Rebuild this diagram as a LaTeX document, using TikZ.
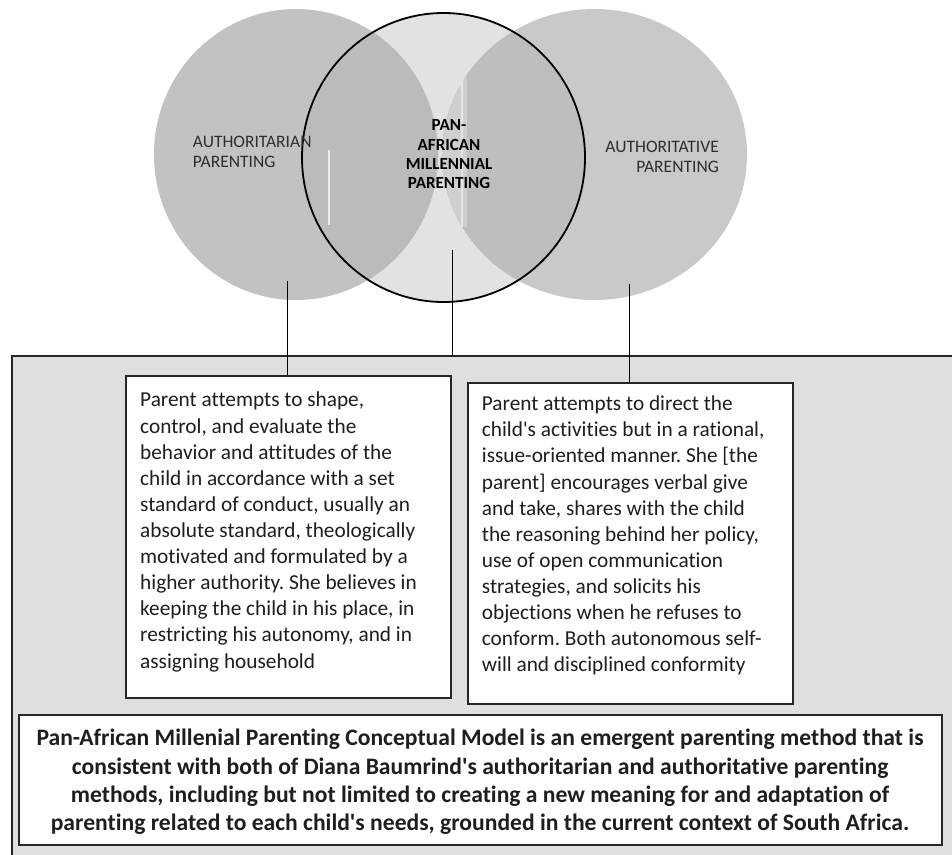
\documentclass[tikz,border=0pt]{standalone}
\usepackage{fontspec}
\setmainfont{Carlito}[Ligatures=NoCommon]
\usetikzlibrary{calc}
\definecolor{midfill}{HTML}{E2E2E2}
\definecolor{leftfill}{HTML}{C2C2C2}
\definecolor{leftin}{HTML}{BBBBBB}
\definecolor{rightfill}{HTML}{C9C9C9}
\definecolor{rightin}{HTML}{BEBEBE}
\definecolor{ghost}{HTML}{CFCFCF}
\definecolor{boxfill}{HTML}{DFDFDF}
\definecolor{circtext}{HTML}{2E2E2E}
\definecolor{bodytext}{HTML}{1E1E1E}
\tikzset{
  conn/.style={draw=black, line width=1.5pt},
  wbox/.style={draw=black!85, fill=white, line width=1.8pt, inner sep=0pt, anchor=north west},
  circlab/.style={inner sep=0pt, text=circtext, font=\fontsize{17.5}{19.7}\selectfont},
  bodytxt/.style={inner sep=0pt, anchor=north west, align=left, text=bodytext, font=\fontsize{21.3}{26.1}\selectfont},
}
\frenchspacing
\begin{document}
\begin{tikzpicture}[x=1pt,y=-1pt]
\useasboundingbox (0,0) rectangle (952,854);
\fill[white] (0,0) rectangle (952,854);
\begin{scope}
\clip (0,0) rectangle (952,854);
% circles
\coordinate (Lc) at (296,154.5);
\coordinate (Mc) at (443.5,157.5);
\coordinate (Rc) at (594.5,154.5);
\fill[midfill] (Mc) ellipse [x radius=141.5pt, y radius=144.5pt];
\fill[leftfill] (Lc) ellipse [x radius=142pt, y radius=145.5pt];
\fill[rightfill] (Rc) ellipse [x radius=152.5pt, y radius=145.5pt];
\begin{scope}
  \clip (Mc) ellipse [x radius=141.5pt, y radius=144.5pt];
  \fill[leftin] (Lc) ellipse [x radius=142pt, y radius=145.5pt];
  \fill[rightin] (Rc) ellipse [x radius=152.5pt, y radius=145.5pt];
\end{scope}
\begin{scope}
  \clip (Rc) ellipse [x radius=152.5pt, y radius=145.5pt];
  \fill[ghost] (442,77) rectangle (467,227);
\end{scope}
\draw[white!80!gray, line width=1.3pt] (462,77) -- (462,227);
\draw[white!85!gray, line width=1.1pt] (329,150) -- (329,225);
\draw[black, line width=1.8pt] (Mc) ellipse [x radius=141.5pt, y radius=144.5pt];

% circle labels
\node[circlab, anchor=north west, align=left] (lab1) at (192.7,136.3) {AUTHORITARIAN\\PARENTING};
\node[circlab, anchor=north, align=center, font=\bfseries\fontsize{17}{19.3}\selectfont, text=black] (lab2) at (449,119.5) {PAN-\\AFRICAN\\MILLENNIAL\\PARENTING};
\node[circlab, anchor=north east, align=right] (lab3) at (719,141) {AUTHORITATIVE\\PARENTING};

% big background box
\node[draw=black!85, fill=boxfill, line width=1.8pt, inner sep=0pt, anchor=north west,
      minimum width=970pt, minimum height=540pt] (big) at (11,355) {};

% boxes
\node[wbox, minimum width=325pt, minimum height=322pt] (lbox) at (125,375) {};
\node[wbox, minimum width=325.6pt, minimum height=321pt] (rbox) at (466.7,381.7) {};
\node[wbox, minimum width=923pt, minimum height=130pt] (bbox) at (18.3,714) {};

% connectors
\coordinate (ltop) at (287.7,281);
\coordinate (mtop) at (452.3,250);
\coordinate (rtop) at (629.3,284);
\draw[conn] (ltop) -- (ltop |- lbox.north);
\draw[conn] (mtop) -- (mtop |- big.north);
\draw[conn] (rtop) -- (rtop |- rbox.north);

% texts
\node[bodytxt] (ltxt) at (140,392) {Parent attempts to shape,\\
control, and evaluate the\\
behavior and attitudes of the\\
child in accordance with a set\\
standard of conduct, usually an\\
absolute standard, theologically\\
motivated and formulated by a\\
higher authority. She believes in\\
keeping the child in his place, in\\
restricting his autonomy, and in\\
assigning household};
\node[bodytxt] (rtxt) at (481.7,395.7) {Parent attempts to direct the\\
child\textquotesingle s activities but in a rational,\\
issue-oriented manner. She [the\\
parent] encourages verbal give\\
and take, shares with the child\\
the reasoning behind her policy,\\
use of open communication\\
strategies, and solicits his\\
objections when he refuses to\\
conform. Both autonomous self-\\
will and disciplined conformity};
\node[inner sep=0pt, anchor=north, align=center, text=bodytext,
      font=\bfseries\fontsize{23.6}{28.3}\selectfont] (btxt) at (480,729)
{Pan-African Millenial Parenting Conceptual Model is an emergent parenting method that is\\
consistent with both of Diana Baumrind\textquotesingle s authoritarian and authoritative parenting\\
methods, including but not limited to creating a new meaning for and adaptation of\\
parenting related to each child\textquotesingle s needs, grounded in the current context of South Africa.};
\end{scope}
\end{tikzpicture}
\end{document}
